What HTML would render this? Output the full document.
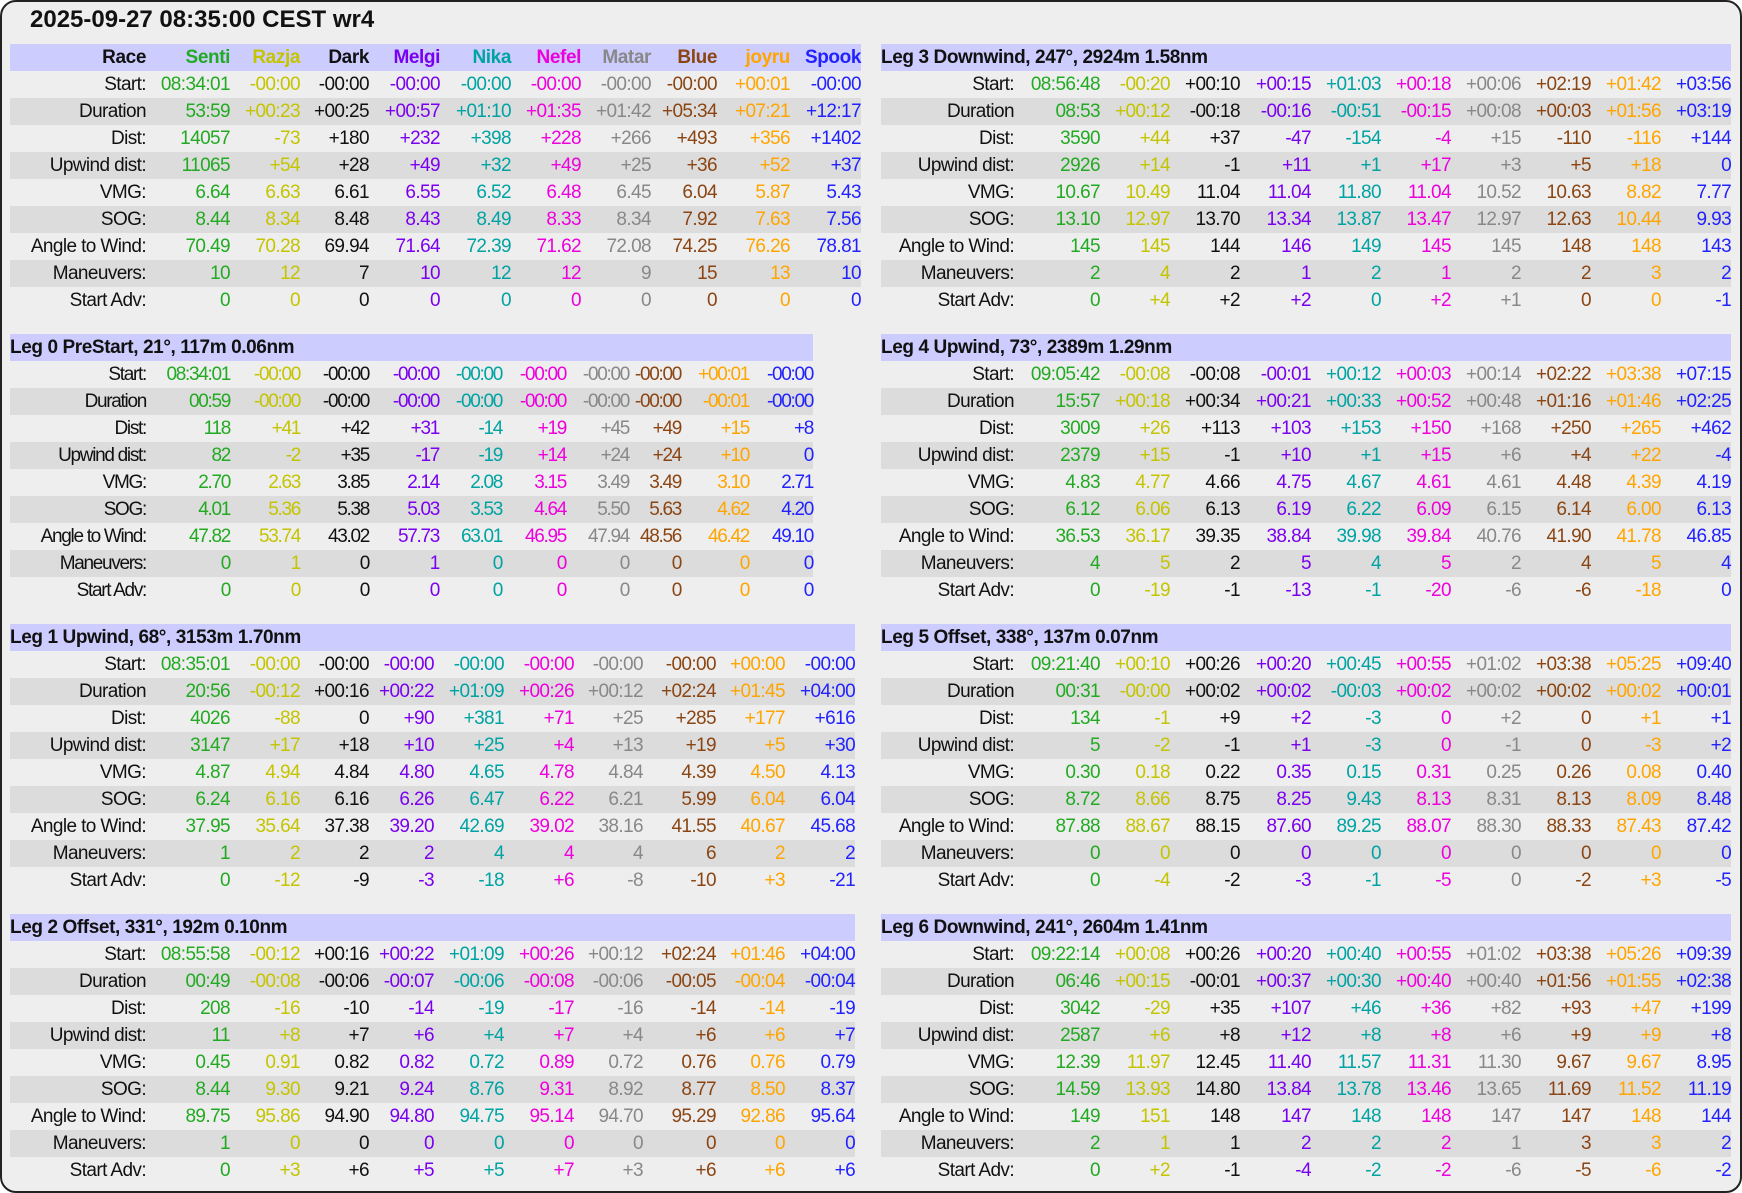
<!DOCTYPE html>
<html><head><meta charset="utf-8"><style>
html,body{margin:0;padding:0;background:#fff;}
#f{position:absolute;left:0;top:0;width:1738px;height:1189px;border:2px solid #222;border-radius:16px;background:#eeeeee;overflow:hidden;}
#t{position:absolute;left:28px;top:4px;font:bold 24px "Liberation Sans",sans-serif;color:#111;}
table{position:absolute;border-collapse:collapse;table-layout:fixed;font:19px "Liberation Sans",sans-serif;letter-spacing:-0.6px;}
table.n{letter-spacing:-1.3px;}
td{padding:0;height:27px;line-height:27px;text-align:right;white-space:nowrap;overflow:visible;}
tr.h td{background:#ccccff;font-weight:bold;font-family:"Liberation Sans Narrow","Liberation Sans",sans-serif;letter-spacing:-0.4px;}
tr.h td.l{text-align:left;}
tr:nth-child(odd):not(.h) td{background:#dcdcdc;}
td:nth-child(1){color:#111;}
td:nth-child(2){color:#22aa22}td:nth-child(3){color:#c4c400}td:nth-child(4){color:#111}
td:nth-child(5){color:#7a00f0}td:nth-child(6){color:#00a3a3}td:nth-child(7){color:#ee00dd}
td:nth-child(8){color:#888}td:nth-child(9){color:#8b4513}td:nth-child(10){color:#ffa500}td:nth-child(11){color:#2222ff}
tr.h td.l{color:#111}
</style></head><body><div id="f">
<div id="t">2025-09-27 08:35:00 CEST wr4</div>

<table style="left:8px;top:42px;width:851px"><colgroup><col style="width:136px"><col style="width:84px"><col style="width:70px"><col style="width:69px"><col style="width:71px"><col style="width:71px"><col style="width:70px"><col style="width:70px"><col style="width:66px"><col style="width:73px"><col style="width:71px"></colgroup>
<tr class="h"><td>Race</td><td>Senti</td><td>Razja</td><td>Dark</td><td>Melgi</td><td>Nika</td><td>Nefel</td><td>Matar</td><td>Blue</td><td>joyru</td><td>Spook</td></tr>
<tr><td>Start:</td><td>08:34:01</td><td>-00:00</td><td>-00:00</td><td>-00:00</td><td>-00:00</td><td>-00:00</td><td>-00:00</td><td>-00:00</td><td>+00:01</td><td>-00:00</td></tr>
<tr><td>Duration</td><td>53:59</td><td>+00:23</td><td>+00:25</td><td>+00:57</td><td>+01:10</td><td>+01:35</td><td>+01:42</td><td>+05:34</td><td>+07:21</td><td>+12:17</td></tr>
<tr><td>Dist:</td><td>14057</td><td>-73</td><td>+180</td><td>+232</td><td>+398</td><td>+228</td><td>+266</td><td>+493</td><td>+356</td><td>+1402</td></tr>
<tr><td>Upwind dist:</td><td>11065</td><td>+54</td><td>+28</td><td>+49</td><td>+32</td><td>+49</td><td>+25</td><td>+36</td><td>+52</td><td>+37</td></tr>
<tr><td>VMG:</td><td>6.64</td><td>6.63</td><td>6.61</td><td>6.55</td><td>6.52</td><td>6.48</td><td>6.45</td><td>6.04</td><td>5.87</td><td>5.43</td></tr>
<tr><td>SOG:</td><td>8.44</td><td>8.34</td><td>8.48</td><td>8.43</td><td>8.49</td><td>8.33</td><td>8.34</td><td>7.92</td><td>7.63</td><td>7.56</td></tr>
<tr><td>Angle to Wind:</td><td>70.49</td><td>70.28</td><td>69.94</td><td>71.64</td><td>72.39</td><td>71.62</td><td>72.08</td><td>74.25</td><td>76.26</td><td>78.81</td></tr>
<tr><td>Maneuvers:</td><td>10</td><td>12</td><td>7</td><td>10</td><td>12</td><td>12</td><td>9</td><td>15</td><td>13</td><td>10</td></tr>
<tr><td>Start Adv:</td><td>0</td><td>0</td><td>0</td><td>0</td><td>0</td><td>0</td><td>0</td><td>0</td><td>0</td><td>0</td></tr>
</table>

<table class="n" style="left:8px;top:332px;width:803px"><colgroup><col style="width:136px"><col style="width:84px"><col style="width:70px"><col style="width:69px"><col style="width:70px"><col style="width:63px"><col style="width:64px"><col style="width:63px"><col style="width:52px"><col style="width:68px"><col style="width:64px"></colgroup>
<tr class="h"><td class="l" colspan="11">Leg 0 PreStart, 21°, 117m 0.06nm</td></tr>
<tr><td>Start:</td><td>08:34:01</td><td>-00:00</td><td>-00:00</td><td>-00:00</td><td>-00:00</td><td>-00:00</td><td>-00:00</td><td>-00:00</td><td>+00:01</td><td>-00:00</td></tr>
<tr><td>Duration</td><td>00:59</td><td>-00:00</td><td>-00:00</td><td>-00:00</td><td>-00:00</td><td>-00:00</td><td>-00:00</td><td>-00:00</td><td>-00:01</td><td>-00:00</td></tr>
<tr><td>Dist:</td><td>118</td><td>+41</td><td>+42</td><td>+31</td><td>-14</td><td>+19</td><td>+45</td><td>+49</td><td>+15</td><td>+8</td></tr>
<tr><td>Upwind dist:</td><td>82</td><td>-2</td><td>+35</td><td>-17</td><td>-19</td><td>+14</td><td>+24</td><td>+24</td><td>+10</td><td>0</td></tr>
<tr><td>VMG:</td><td>2.70</td><td>2.63</td><td>3.85</td><td>2.14</td><td>2.08</td><td>3.15</td><td>3.49</td><td>3.49</td><td>3.10</td><td>2.71</td></tr>
<tr><td>SOG:</td><td>4.01</td><td>5.36</td><td>5.38</td><td>5.03</td><td>3.53</td><td>4.64</td><td>5.50</td><td>5.63</td><td>4.62</td><td>4.20</td></tr>
<tr><td>Angle to Wind:</td><td>47.82</td><td>53.74</td><td>43.02</td><td>57.73</td><td>63.01</td><td>46.95</td><td>47.94</td><td>48.56</td><td>46.42</td><td>49.10</td></tr>
<tr><td>Maneuvers:</td><td>0</td><td>1</td><td>0</td><td>1</td><td>0</td><td>0</td><td>0</td><td>0</td><td>0</td><td>0</td></tr>
<tr><td>Start Adv:</td><td>0</td><td>0</td><td>0</td><td>0</td><td>0</td><td>0</td><td>0</td><td>0</td><td>0</td><td>0</td></tr>
</table>

<table style="left:8px;top:622px;width:845px"><colgroup><col style="width:136px"><col style="width:84px"><col style="width:70px"><col style="width:69px"><col style="width:65px"><col style="width:70px"><col style="width:70px"><col style="width:69px"><col style="width:73px"><col style="width:69px"><col style="width:70px"></colgroup>
<tr class="h"><td class="l" colspan="11">Leg 1 Upwind, 68°, 3153m 1.70nm</td></tr>
<tr><td>Start:</td><td>08:35:01</td><td>-00:00</td><td>-00:00</td><td>-00:00</td><td>-00:00</td><td>-00:00</td><td>-00:00</td><td>-00:00</td><td>+00:00</td><td>-00:00</td></tr>
<tr><td>Duration</td><td>20:56</td><td>-00:12</td><td>+00:16</td><td>+00:22</td><td>+01:09</td><td>+00:26</td><td>+00:12</td><td>+02:24</td><td>+01:45</td><td>+04:00</td></tr>
<tr><td>Dist:</td><td>4026</td><td>-88</td><td>0</td><td>+90</td><td>+381</td><td>+71</td><td>+25</td><td>+285</td><td>+177</td><td>+616</td></tr>
<tr><td>Upwind dist:</td><td>3147</td><td>+17</td><td>+18</td><td>+10</td><td>+25</td><td>+4</td><td>+13</td><td>+19</td><td>+5</td><td>+30</td></tr>
<tr><td>VMG:</td><td>4.87</td><td>4.94</td><td>4.84</td><td>4.80</td><td>4.65</td><td>4.78</td><td>4.84</td><td>4.39</td><td>4.50</td><td>4.13</td></tr>
<tr><td>SOG:</td><td>6.24</td><td>6.16</td><td>6.16</td><td>6.26</td><td>6.47</td><td>6.22</td><td>6.21</td><td>5.99</td><td>6.04</td><td>6.04</td></tr>
<tr><td>Angle to Wind:</td><td>37.95</td><td>35.64</td><td>37.38</td><td>39.20</td><td>42.69</td><td>39.02</td><td>38.16</td><td>41.55</td><td>40.67</td><td>45.68</td></tr>
<tr><td>Maneuvers:</td><td>1</td><td>2</td><td>2</td><td>2</td><td>4</td><td>4</td><td>4</td><td>6</td><td>2</td><td>2</td></tr>
<tr><td>Start Adv:</td><td>0</td><td>-12</td><td>-9</td><td>-3</td><td>-18</td><td>+6</td><td>-8</td><td>-10</td><td>+3</td><td>-21</td></tr>
</table>

<table style="left:8px;top:912px;width:845px"><colgroup><col style="width:136px"><col style="width:84px"><col style="width:70px"><col style="width:69px"><col style="width:65px"><col style="width:70px"><col style="width:70px"><col style="width:69px"><col style="width:73px"><col style="width:69px"><col style="width:70px"></colgroup>
<tr class="h"><td class="l" colspan="11">Leg 2 Offset, 331°, 192m 0.10nm</td></tr>
<tr><td>Start:</td><td>08:55:58</td><td>-00:12</td><td>+00:16</td><td>+00:22</td><td>+01:09</td><td>+00:26</td><td>+00:12</td><td>+02:24</td><td>+01:46</td><td>+04:00</td></tr>
<tr><td>Duration</td><td>00:49</td><td>-00:08</td><td>-00:06</td><td>-00:07</td><td>-00:06</td><td>-00:08</td><td>-00:06</td><td>-00:05</td><td>-00:04</td><td>-00:04</td></tr>
<tr><td>Dist:</td><td>208</td><td>-16</td><td>-10</td><td>-14</td><td>-19</td><td>-17</td><td>-16</td><td>-14</td><td>-14</td><td>-19</td></tr>
<tr><td>Upwind dist:</td><td>11</td><td>+8</td><td>+7</td><td>+6</td><td>+4</td><td>+7</td><td>+4</td><td>+6</td><td>+6</td><td>+7</td></tr>
<tr><td>VMG:</td><td>0.45</td><td>0.91</td><td>0.82</td><td>0.82</td><td>0.72</td><td>0.89</td><td>0.72</td><td>0.76</td><td>0.76</td><td>0.79</td></tr>
<tr><td>SOG:</td><td>8.44</td><td>9.30</td><td>9.21</td><td>9.24</td><td>8.76</td><td>9.31</td><td>8.92</td><td>8.77</td><td>8.50</td><td>8.37</td></tr>
<tr><td>Angle to Wind:</td><td>89.75</td><td>95.86</td><td>94.90</td><td>94.80</td><td>94.75</td><td>95.14</td><td>94.70</td><td>95.29</td><td>92.86</td><td>95.64</td></tr>
<tr><td>Maneuvers:</td><td>1</td><td>0</td><td>0</td><td>0</td><td>0</td><td>0</td><td>0</td><td>0</td><td>0</td><td>0</td></tr>
<tr><td>Start Adv:</td><td>0</td><td>+3</td><td>+6</td><td>+5</td><td>+5</td><td>+7</td><td>+3</td><td>+6</td><td>+6</td><td>+6</td></tr>
</table>

<table style="left:879px;top:42px;width:850px"><colgroup><col style="width:133px"><col style="width:86px"><col style="width:70px"><col style="width:70px"><col style="width:71px"><col style="width:70px"><col style="width:70px"><col style="width:70px"><col style="width:70px"><col style="width:70px"><col style="width:70px"></colgroup>
<tr class="h"><td class="l" colspan="11">Leg 3 Downwind, 247°, 2924m 1.58nm</td></tr>
<tr><td>Start:</td><td>08:56:48</td><td>-00:20</td><td>+00:10</td><td>+00:15</td><td>+01:03</td><td>+00:18</td><td>+00:06</td><td>+02:19</td><td>+01:42</td><td>+03:56</td></tr>
<tr><td>Duration</td><td>08:53</td><td>+00:12</td><td>-00:18</td><td>-00:16</td><td>-00:51</td><td>-00:15</td><td>+00:08</td><td>+00:03</td><td>+01:56</td><td>+03:19</td></tr>
<tr><td>Dist:</td><td>3590</td><td>+44</td><td>+37</td><td>-47</td><td>-154</td><td>-4</td><td>+15</td><td>-110</td><td>-116</td><td>+144</td></tr>
<tr><td>Upwind dist:</td><td>2926</td><td>+14</td><td>-1</td><td>+11</td><td>+1</td><td>+17</td><td>+3</td><td>+5</td><td>+18</td><td>0</td></tr>
<tr><td>VMG:</td><td>10.67</td><td>10.49</td><td>11.04</td><td>11.04</td><td>11.80</td><td>11.04</td><td>10.52</td><td>10.63</td><td>8.82</td><td>7.77</td></tr>
<tr><td>SOG:</td><td>13.10</td><td>12.97</td><td>13.70</td><td>13.34</td><td>13.87</td><td>13.47</td><td>12.97</td><td>12.63</td><td>10.44</td><td>9.93</td></tr>
<tr><td>Angle to Wind:</td><td>145</td><td>145</td><td>144</td><td>146</td><td>149</td><td>145</td><td>145</td><td>148</td><td>148</td><td>143</td></tr>
<tr><td>Maneuvers:</td><td>2</td><td>4</td><td>2</td><td>1</td><td>2</td><td>1</td><td>2</td><td>2</td><td>3</td><td>2</td></tr>
<tr><td>Start Adv:</td><td>0</td><td>+4</td><td>+2</td><td>+2</td><td>0</td><td>+2</td><td>+1</td><td>0</td><td>0</td><td>-1</td></tr>
</table>

<table style="left:879px;top:332px;width:850px"><colgroup><col style="width:133px"><col style="width:86px"><col style="width:70px"><col style="width:70px"><col style="width:71px"><col style="width:70px"><col style="width:70px"><col style="width:70px"><col style="width:70px"><col style="width:70px"><col style="width:70px"></colgroup>
<tr class="h"><td class="l" colspan="11">Leg 4 Upwind, 73°, 2389m 1.29nm</td></tr>
<tr><td>Start:</td><td>09:05:42</td><td>-00:08</td><td>-00:08</td><td>-00:01</td><td>+00:12</td><td>+00:03</td><td>+00:14</td><td>+02:22</td><td>+03:38</td><td>+07:15</td></tr>
<tr><td>Duration</td><td>15:57</td><td>+00:18</td><td>+00:34</td><td>+00:21</td><td>+00:33</td><td>+00:52</td><td>+00:48</td><td>+01:16</td><td>+01:46</td><td>+02:25</td></tr>
<tr><td>Dist:</td><td>3009</td><td>+26</td><td>+113</td><td>+103</td><td>+153</td><td>+150</td><td>+168</td><td>+250</td><td>+265</td><td>+462</td></tr>
<tr><td>Upwind dist:</td><td>2379</td><td>+15</td><td>-1</td><td>+10</td><td>+1</td><td>+15</td><td>+6</td><td>+4</td><td>+22</td><td>-4</td></tr>
<tr><td>VMG:</td><td>4.83</td><td>4.77</td><td>4.66</td><td>4.75</td><td>4.67</td><td>4.61</td><td>4.61</td><td>4.48</td><td>4.39</td><td>4.19</td></tr>
<tr><td>SOG:</td><td>6.12</td><td>6.06</td><td>6.13</td><td>6.19</td><td>6.22</td><td>6.09</td><td>6.15</td><td>6.14</td><td>6.00</td><td>6.13</td></tr>
<tr><td>Angle to Wind:</td><td>36.53</td><td>36.17</td><td>39.35</td><td>38.84</td><td>39.98</td><td>39.84</td><td>40.76</td><td>41.90</td><td>41.78</td><td>46.85</td></tr>
<tr><td>Maneuvers:</td><td>4</td><td>5</td><td>2</td><td>5</td><td>4</td><td>5</td><td>2</td><td>4</td><td>5</td><td>4</td></tr>
<tr><td>Start Adv:</td><td>0</td><td>-19</td><td>-1</td><td>-13</td><td>-1</td><td>-20</td><td>-6</td><td>-6</td><td>-18</td><td>0</td></tr>
</table>

<table style="left:879px;top:622px;width:850px"><colgroup><col style="width:133px"><col style="width:86px"><col style="width:70px"><col style="width:70px"><col style="width:71px"><col style="width:70px"><col style="width:70px"><col style="width:70px"><col style="width:70px"><col style="width:70px"><col style="width:70px"></colgroup>
<tr class="h"><td class="l" colspan="11">Leg 5 Offset, 338°, 137m 0.07nm</td></tr>
<tr><td>Start:</td><td>09:21:40</td><td>+00:10</td><td>+00:26</td><td>+00:20</td><td>+00:45</td><td>+00:55</td><td>+01:02</td><td>+03:38</td><td>+05:25</td><td>+09:40</td></tr>
<tr><td>Duration</td><td>00:31</td><td>-00:00</td><td>+00:02</td><td>+00:02</td><td>-00:03</td><td>+00:02</td><td>+00:02</td><td>+00:02</td><td>+00:02</td><td>+00:01</td></tr>
<tr><td>Dist:</td><td>134</td><td>-1</td><td>+9</td><td>+2</td><td>-3</td><td>0</td><td>+2</td><td>0</td><td>+1</td><td>+1</td></tr>
<tr><td>Upwind dist:</td><td>5</td><td>-2</td><td>-1</td><td>+1</td><td>-3</td><td>0</td><td>-1</td><td>0</td><td>-3</td><td>+2</td></tr>
<tr><td>VMG:</td><td>0.30</td><td>0.18</td><td>0.22</td><td>0.35</td><td>0.15</td><td>0.31</td><td>0.25</td><td>0.26</td><td>0.08</td><td>0.40</td></tr>
<tr><td>SOG:</td><td>8.72</td><td>8.66</td><td>8.75</td><td>8.25</td><td>9.43</td><td>8.13</td><td>8.31</td><td>8.13</td><td>8.09</td><td>8.48</td></tr>
<tr><td>Angle to Wind:</td><td>87.88</td><td>88.67</td><td>88.15</td><td>87.60</td><td>89.25</td><td>88.07</td><td>88.30</td><td>88.33</td><td>87.43</td><td>87.42</td></tr>
<tr><td>Maneuvers:</td><td>0</td><td>0</td><td>0</td><td>0</td><td>0</td><td>0</td><td>0</td><td>0</td><td>0</td><td>0</td></tr>
<tr><td>Start Adv:</td><td>0</td><td>-4</td><td>-2</td><td>-3</td><td>-1</td><td>-5</td><td>0</td><td>-2</td><td>+3</td><td>-5</td></tr>
</table>

<table style="left:879px;top:912px;width:850px"><colgroup><col style="width:133px"><col style="width:86px"><col style="width:70px"><col style="width:70px"><col style="width:71px"><col style="width:70px"><col style="width:70px"><col style="width:70px"><col style="width:70px"><col style="width:70px"><col style="width:70px"></colgroup>
<tr class="h"><td class="l" colspan="11">Leg 6 Downwind, 241°, 2604m 1.41nm</td></tr>
<tr><td>Start:</td><td>09:22:14</td><td>+00:08</td><td>+00:26</td><td>+00:20</td><td>+00:40</td><td>+00:55</td><td>+01:02</td><td>+03:38</td><td>+05:26</td><td>+09:39</td></tr>
<tr><td>Duration</td><td>06:46</td><td>+00:15</td><td>-00:01</td><td>+00:37</td><td>+00:30</td><td>+00:40</td><td>+00:40</td><td>+01:56</td><td>+01:55</td><td>+02:38</td></tr>
<tr><td>Dist:</td><td>3042</td><td>-29</td><td>+35</td><td>+107</td><td>+46</td><td>+36</td><td>+82</td><td>+93</td><td>+47</td><td>+199</td></tr>
<tr><td>Upwind dist:</td><td>2587</td><td>+6</td><td>+8</td><td>+12</td><td>+8</td><td>+8</td><td>+6</td><td>+9</td><td>+9</td><td>+8</td></tr>
<tr><td>VMG:</td><td>12.39</td><td>11.97</td><td>12.45</td><td>11.40</td><td>11.57</td><td>11.31</td><td>11.30</td><td>9.67</td><td>9.67</td><td>8.95</td></tr>
<tr><td>SOG:</td><td>14.59</td><td>13.93</td><td>14.80</td><td>13.84</td><td>13.78</td><td>13.46</td><td>13.65</td><td>11.69</td><td>11.52</td><td>11.19</td></tr>
<tr><td>Angle to Wind:</td><td>149</td><td>151</td><td>148</td><td>147</td><td>148</td><td>148</td><td>147</td><td>147</td><td>148</td><td>144</td></tr>
<tr><td>Maneuvers:</td><td>2</td><td>1</td><td>1</td><td>2</td><td>2</td><td>2</td><td>1</td><td>3</td><td>3</td><td>2</td></tr>
<tr><td>Start Adv:</td><td>0</td><td>+2</td><td>-1</td><td>-4</td><td>-2</td><td>-2</td><td>-6</td><td>-5</td><td>-6</td><td>-2</td></tr>
</table>
</div></body></html>
